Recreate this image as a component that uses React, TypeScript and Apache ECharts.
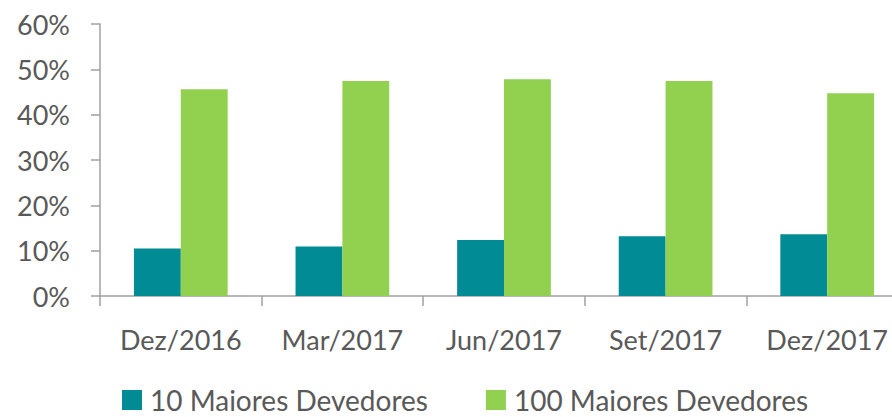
import React, { useEffect, useRef } from "react";
import * as echarts from "echarts";

const categories = ["Dez/2016", "Mar/2017", "Jun/2017", "Set/2017", "Dez/2017"];
const top10 = [10.5, 10.9, 12.35, 13.2, 13.6];
const top100 = [45.6, 47.4, 47.8, 47.4, 44.7];
const yTicks = [0, 10, 20, 30, 40, 50, 60];

const FONT = "Lato";
const TEXT = "#595959";
const AXIS = "#A0A0A0";

export default function App() {
  const ref = useRef<HTMLDivElement>(null);
  useEffect(() => {
    if (!ref.current) return;
    const chart = echarts.init(ref.current, undefined, { renderer: "svg" });
    chart.setOption({
      animation: false,
      backgroundColor: "#ffffff",
      textStyle: { fontFamily: FONT },
      grid: { left: 100, top: 24, width: 808, height: 272, outerBoundsMode: "none", containLabel: false },
      legend: {
        left: 122,
        top: 385,
        padding: 0,
        itemWidth: 20,
        itemHeight: 20,
        itemGap: 58,
        icon: "rect",
        textStyle: { fontFamily: FONT, fontSize: 28, color: TEXT, lineHeight: 30, padding: [0, 0, 0, 3] },
        data: ["10 Maiores Devedores", "100 Maiores Devedores"],
      },
      xAxis: {
        type: "category",
        data: categories,
        axisLine: { lineStyle: { color: AXIS, width: 1.5 } },
        axisTick: { show: true, length: 10, lineStyle: { color: AXIS, width: 1.5 } },
        axisLabel: { fontFamily: FONT, fontSize: 27, color: TEXT, margin: 30 },
      },
      yAxis: {
        type: "value",
        min: yTicks[0],
        max: yTicks[yTicks.length - 1],
        interval: 10,
        splitLine: { show: false },
        axisLine: { show: true, lineStyle: { color: AXIS, width: 1.5 } },
        axisTick: { show: true, length: 9, lineStyle: { color: AXIS, width: 1.5 } },
        axisLabel: {
          fontFamily: FONT,
          fontSize: 27,
          color: TEXT,
          margin: 30,
          formatter: (v: number) => `${v}%`,
        },
      },
      series: [
        {
          name: "10 Maiores Devedores",
          type: "bar",
          data: top10,
          itemStyle: { color: "#008B95" },
          barGap: "0%",
          barCategoryGap: "42%",
        },
        {
          name: "100 Maiores Devedores",
          type: "bar",
          data: top100,
          itemStyle: { color: "#92D050" },
          barGap: "0%",
          barCategoryGap: "42%",
        },
      ],
    });
    return () => chart.dispose();
  }, []);
  return (
    <div
      ref={ref}
      style={{ position: "fixed", left: 0, top: 0, width: 892, height: 417 }}
    />
  );
}
